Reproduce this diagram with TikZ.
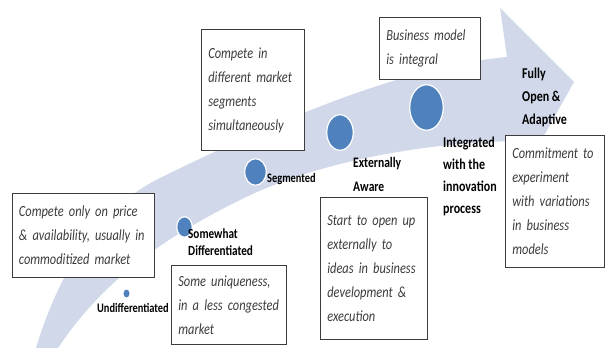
\documentclass[tikz,border=0pt]{standalone}
\usepackage{fontspec}
\setmainfont{Carlito}[FakeStretch=0.8]
\usepackage{xcolor}
\usetikzlibrary{shapes.geometric}
\definecolor{bandblue}{RGB}{208,216,233}
\definecolor{dotblue}{RGB}{79,129,189}
\definecolor{boxline}{RGB}{60,60,60}
\definecolor{boxtext}{RGB}{60,60,60}
\newcommand\notefont{\itshape\fontsize{15.5}{24}\selectfont\hyphenpenalty10000\relax}
\tikzset{dot/.style={ellipse,fill=dotblue,draw=white,line width=1.2pt,inner sep=0pt},
  stage/.style={font=\bfseries,align=left,inner sep=0pt,anchor=base west},
  note/.style={draw=boxline,line width=0.7pt,fill=white,text=boxtext,font=\notefont,align=left,inner xsep=7pt,inner ysep=0pt,anchor=north west}}

\begin{document}
\begin{tikzpicture}[x=1pt,y=-1pt]
        \useasboundingbox (0,0) rectangle (605,348);
        \fill[bandblue] (36,348) .. controls (62,262) and (105,205) .. (160,178)
          .. controls (250,134) and (390,68) .. (507,57) -- (500,8) -- (574,82) -- (527,166) -- (520,141)
          .. controls (430,142) and (320,160) .. (240,200) .. controls (180,230) and (110,270) .. (58,348) -- cycle;

        \node[dot,minimum width=7.5pt,minimum height=9.5pt] (u) at (126.5,293.5) {};
        \node[dot,minimum width=15.5pt,minimum height=20.5pt] (s) at (184.5,227) {};
        \node[dot,minimum width=21.5pt,minimum height=26.5pt] (g) at (255.5,172) {};
        \node[dot,minimum width=26.5pt,minimum height=35.5pt] (e) at (340,132.5) {};
        \node[dot,minimum width=33.5pt,minimum height=45.5pt] (i) at (426.5,107.5) {};

        % multi-line labels sit on the baseline of their last line
        \node[stage,font=\bfseries\fontsize{13}{17}\selectfont] (ul) at (97,312) {Undifferentiated};
        \node[stage,font=\bfseries\fontsize{14}{17}\selectfont] (sl) at (188,255) {Somewhat\\Differentiated};
        \node[stage,font=\bfseries\fontsize{13}{17}\selectfont] (gl) at (267,182) {Segmented};
        \node[stage,font=\bfseries\fontsize{14.5}{24}\selectfont] (el) at (353,191.5) {Externally\\Aware};
        \node[stage,font=\bfseries\fontsize{15}{22}\selectfont] (il) at (443,213) {Integrated\\with the\\innovation\\process};
        \node[stage,font=\bfseries\fontsize{15}{23}\selectfont] (fl) at (522,124) {Fully\\Open \&\\Adaptive};

        \node[note,text width=128pt,minimum height=84pt] (un) at (11.6,192.7) {Compete only on price\\\& availability, usually in\\commoditized market};
        \node[note,text width=89.4pt,minimum height=120.7pt] (gn) at (201,29.3) {Compete in\\different market\\segments\\simultaneously};
        \node[note,text width=86.5pt,minimum height=62.6pt] (in) at (379,16.7) {Business model\\is integral};
        \node[note,text width=100.7pt,minimum height=79pt] (sn) at (171,265) {Some uniqueness,\\in a less congested\\market};
        \node[note,text width=92.6pt,minimum height=142pt] (en) at (320,197) {Start to open up\\externally to\\ideas in business\\development \&\\execution};
        \node[note,text width=85pt,minimum height=132pt] (fn) at (505,135) {Commitment to\\experiment\\with variations\\in business\\models};
    \end{tikzpicture}
\end{document}
